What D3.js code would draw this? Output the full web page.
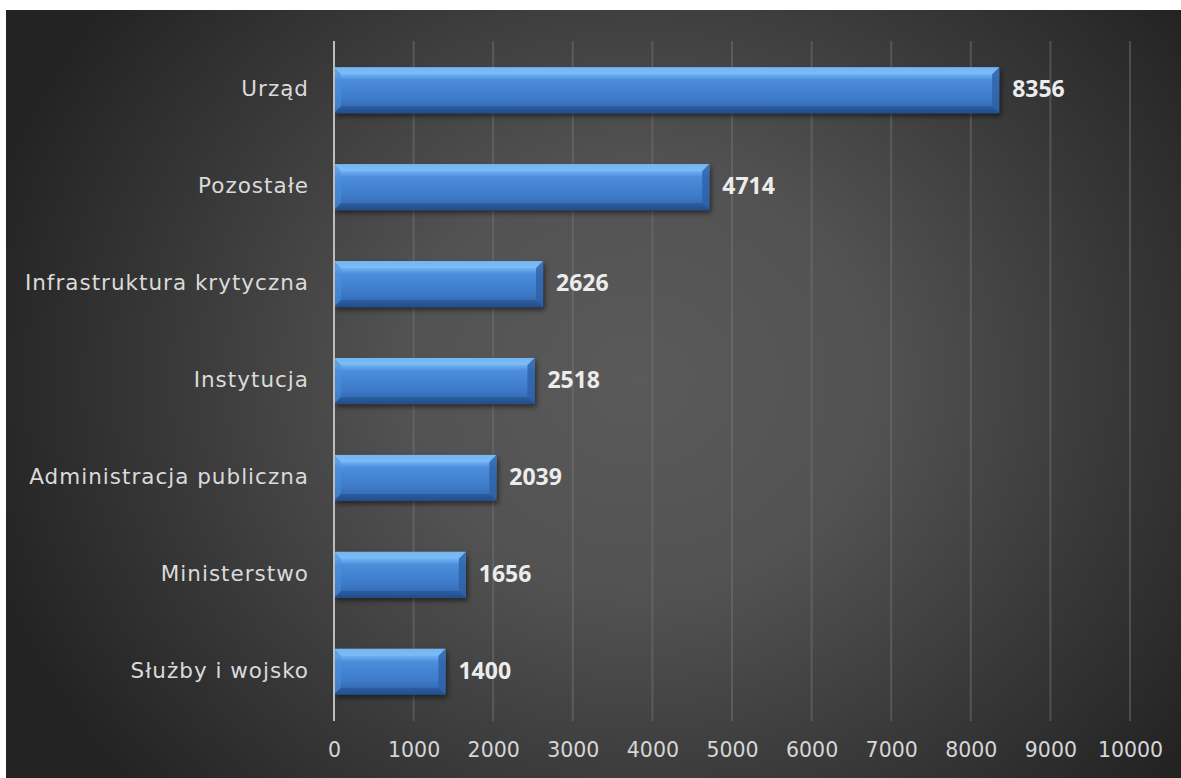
<!DOCTYPE html>
<html>
<head>
<meta charset="utf-8">
<script src="https://cdn.jsdelivr.net/npm/d3@7"></script>
<style>
  html, body { margin: 0; padding: 0; background: #ffffff; }
  svg { display: block; }
</style>
</head>
<body>
<svg id="chart" width="1181" height="778"></svg>
<script>
// Incident counts by sector
const categories = [
  "Urząd",
  "Pozostałe",
  "Infrastruktura krytyczna",
  "Instytucja ",
  "Administracja publiczna",
  "Ministerstwo",
  "Służby i wojsko"
];
const values = [8356, 4714, 2626, 2518, 2039, 1656, 1400];
const xTicks = [0, 1000, 2000, 3000, 4000, 5000, 6000, 7000, 8000, 9000, 10000];

const W = 1181, H = 778;
const svg = d3.select("#chart");
const defs = svg.append("defs");

// Panel background: radial glow, light in the middle, dark at the edges
const bg = defs.append("radialGradient").attr("id", "bgGrad")
  .attr("gradientUnits", "userSpaceOnUse")
  .attr("cx", 640).attr("cy", 380).attr("r", 680)
  .attr("gradientTransform", "translate(640,380) scale(1,0.9) translate(-640,-380)");
bg.append("stop").attr("offset", "0%").attr("stop-color", "#5a5a5a");
bg.append("stop").attr("offset", "35%").attr("stop-color", "#525252");
bg.append("stop").attr("offset", "70%").attr("stop-color", "#383838");
bg.append("stop").attr("offset", "100%").attr("stop-color", "#232323");

// Bar fill: glossy blue
const bar = defs.append("linearGradient").attr("id", "barGrad")
  .attr("x1", 0).attr("y1", 0).attr("x2", 0).attr("y2", 1);
bar.append("stop").attr("offset", "0%").attr("stop-color", "#5ea6ee");
bar.append("stop").attr("offset", "15%").attr("stop-color", "#6eb2f2");
bar.append("stop").attr("offset", "28%").attr("stop-color", "#4c8ddc");
bar.append("stop").attr("offset", "70%").attr("stop-color", "#3d7ac8");
bar.append("stop").attr("offset", "88%").attr("stop-color", "#356bb3");
bar.append("stop").attr("offset", "100%").attr("stop-color", "#24518f");

const shadow = defs.append("filter").attr("id", "barShadow")
  .attr("x", "-5%").attr("y", "-20%").attr("width", "115%").attr("height", "150%");
shadow.append("feDropShadow").attr("dx", 2).attr("dy", 3).attr("stdDeviation", 2.5)
  .attr("flood-color", "#000").attr("flood-opacity", 0.5);

svg.append("rect").attr("x", 6).attr("y", 10).attr("width", W - 6).attr("height", H - 10)
  .attr("fill", "url(#bgGrad)");

const margin = { left: 334, right: 51, top: 41, bottom: 57 };
const x = d3.scaleLinear().domain([0, 10000]).range([margin.left, W - margin.right]);
const y = d3.scaleBand().domain(categories).range([margin.top, H - margin.bottom]).paddingInner(0.525).paddingOuter(0.27);

// Vertical gridlines
svg.append("g").selectAll("line").data(xTicks.slice(1)).join("line")
  .attr("x1", d => x(d)).attr("x2", d => x(d))
  .attr("y1", margin.top).attr("y2", H - margin.bottom)
  .attr("stroke", "#777").attr("stroke-width", 2).attr("stroke-opacity", 0.45);

// Bottom tick labels
const xAxis = svg.append("g").attr("transform", `translate(0,${H - 27})`)
  .call(d3.axisBottom(x).tickValues(xTicks).tickSize(0).tickPadding(0).tickFormat(d3.format("d")));
xAxis.select(".domain").remove();
xAxis.selectAll("text")
  .attr("dy", "0")
  .attr("fill", "#d6d6d6")
  .attr("font-family", "'DejaVu Sans', sans-serif")
  .attr("font-size", 20.5)
  .attr("dominant-baseline", "middle");

// Bars with a bevelled edge
const barG = svg.append("g");
const bars = barG.selectAll("g.bar").data(categories).join("g").attr("class", "bar");
bars.append("rect")
  .attr("x", x(0))
  .attr("y", d => y(d))
  .attr("width", (d, i) => x(values[i]) - x(0))
  .attr("height", y.bandwidth())
  .attr("fill", "url(#barGrad)")
  .attr("filter", "url(#barShadow)");
const bev = 7;
// left bevel (lighter)
bars.append("path")
  .attr("d", d => {
    const x0 = x(0), y0 = y(d), h = y.bandwidth();
    return `M${x0},${y0} L${x0 + bev},${y0 + bev} L${x0 + bev},${y0 + h - bev} L${x0},${y0 + h} Z`;
  })
  .attr("fill", "#4b8fdc").attr("opacity", 0.5);
// right bevel (darker)
bars.append("path")
  .attr("d", (d, i) => {
    const x1 = x(values[i]), y0 = y(d), h = y.bandwidth();
    return `M${x1},${y0} L${x1 - bev},${y0 + bev} L${x1 - bev},${y0 + h - bev} L${x1},${y0 + h} Z`;
  })
  .attr("fill", "#2d60a6").attr("opacity", 0.8);
// top highlight strip
bars.append("path")
  .attr("d", (d, i) => {
    const x0 = x(0), x1 = x(values[i]), y0 = y(d);
    return `M${x0},${y0} L${x1},${y0} L${x1 - bev},${y0 + bev} L${x0 + bev},${y0 + bev} Z`;
  })
  .attr("fill", "#8cc6f7").attr("opacity", 0.5);
// bottom dark strip
bars.append("path")
  .attr("d", (d, i) => {
    const x0 = x(0), x1 = x(values[i]), y0 = y(d), h = y.bandwidth();
    return `M${x0},${y0 + h} L${x1},${y0 + h} L${x1 - bev},${y0 + h - bev} L${x0 + bev},${y0 + h - bev} Z`;
  })
  .attr("fill", "#1f4a85").attr("opacity", 0.5);

// Zero axis line
svg.append("line")
  .attr("x1", x(0)).attr("x2", x(0))
  .attr("y1", margin.top).attr("y2", H - margin.bottom)
  .attr("stroke", "#bdbdbd").attr("stroke-width", 2);

// Category labels
svg.append("g").selectAll("text").data(categories).join("text")
  .attr("x", x(0) - 25)
  .attr("y", d => y(d) + y.bandwidth() / 2)
  .attr("text-anchor", "end")
  .attr("dominant-baseline", "middle")
  .attr("fill", "#dadada")
  .attr("font-family", "'DejaVu Sans', sans-serif")
  .attr("font-size", 21.5)
  .attr("letter-spacing", 1)
  .text(d => d);

// Value labels
svg.append("g").selectAll("text").data(values).join("text")
  .attr("x", d => x(d) + 13)
  .attr("y", (d, i) => y(categories[i]) + y.bandwidth() / 2 + 1)
  .attr("dominant-baseline", "middle")
  .attr("fill", "#ececec")
  .attr("font-family", "'Open Sans', sans-serif")
  .attr("font-size", 23)
  .attr("font-weight", 700)
  .text(d => d);
</script>
</body>
</html>
